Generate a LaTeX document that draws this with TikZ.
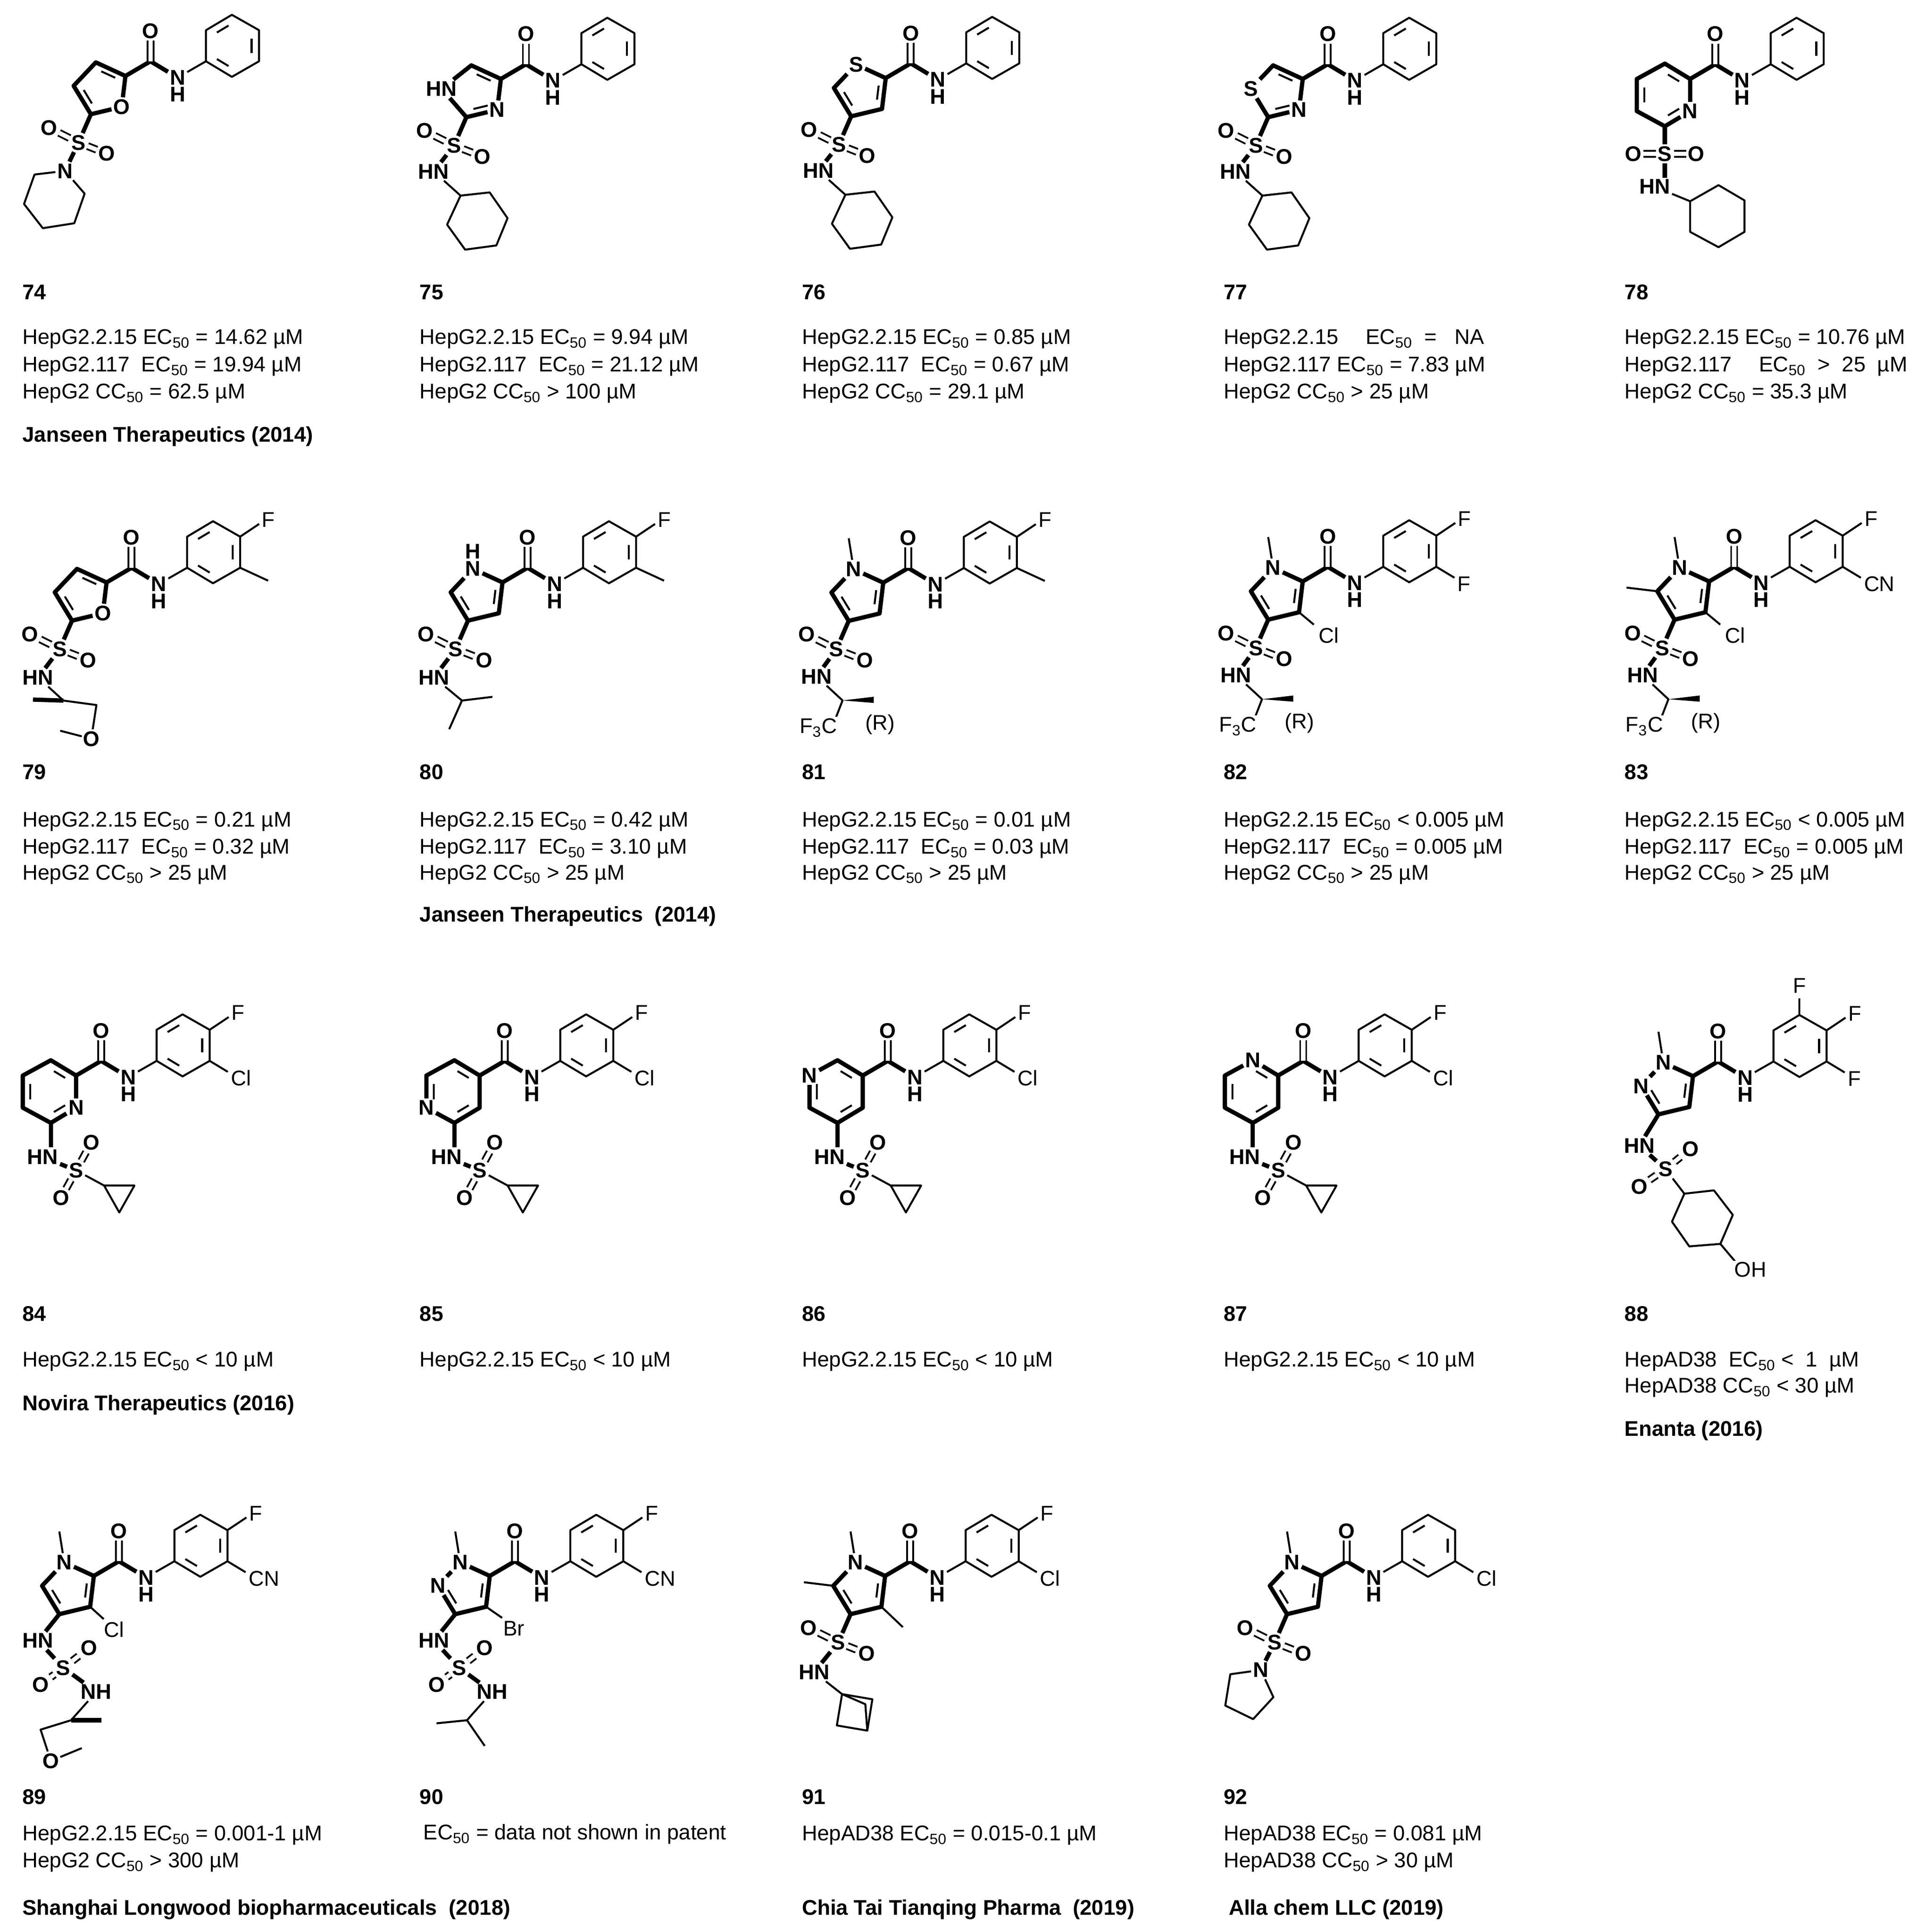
\documentclass[tikz,border=0pt]{standalone}
\usepackage{fontspec}
\setmainfont{Liberation Sans}
\usetikzlibrary{calc}
\tikzset{
 bb/.style={line width=2.6pt,line join=round},
 tb/.style={line width=1.2pt,line join=round},
 dbl/.style={double,double distance=2.6pt,line width=1.1pt},
 atom/.style={font=\fontsize{13}{13}\selectfont\bfseries,inner sep=1pt,fill=white},
 lab/.style={font=\fontsize{13}{13}\selectfont,inner sep=1pt,fill=white},
 txt/.style={font=\fontsize{13}{13}\selectfont,anchor=west,inner sep=0pt},
 btxt/.style={font=\fontsize{13}{13}\selectfont\bfseries,anchor=west,inner sep=0pt},
}
\newcommand\ib[3]{\draw[tb,shorten <=2.5pt,shorten >=2.5pt] ($(#1)!.28!(#3)$)--($(#2)!.28!(#3)$);}
\newcommand\amph[1]{%
 \coordinate (#1c2) at (0,0);
 \coordinate (#1cc) at (20.3,-11.9);
 \node[atom] (#1o) at (20.3,-36.4) {O};
 \node[atom] (#1n) at (42.3,1.3) {N};
 \node[atom] (#1h) at (42.3,15.1) {H};
 \coordinate (#1a1) at (65.3,-11.9);\coordinate (#1a2) at (65.3,-37.1);
 \coordinate (#1a3) at (86.3,-49.6);\coordinate (#1a4) at (108.3,-37.1);
 \coordinate (#1a5) at (108.3,-11.9);\coordinate (#1a6) at (86.3,0.7);
 \coordinate (#1ac) at (86.8,-24.4);
 \draw[bb] (#1c2)--(#1cc)--(#1n);
 \draw[dbl] (#1cc)--(#1o);
 \draw[tb] (#1n)--(#1a1);
 \draw[tb] (#1a1)--(#1a2)--(#1a3)--(#1a4)--(#1a5)--(#1a6)--cycle;
 \ib{#1a2}{#1a3}{#1ac}\ib{#1a4}{#1a5}{#1ac}\ib{#1a6}{#1a1}{#1ac}}
\newcommand\Fp[1]{\draw[tb] (#1a4)--(123.7,-47.4); \node[lab] (#1fp) at (131.3,-50.8) {F};}
\newcommand\mSub[2]{\draw[tb] (#1a5)--(123,-3); \node[lab,anchor=west] (#1ms) at (124,2) {#2};}
\newcommand\mMe[1]{\draw[tb] (#1a5)--(131,-1.4);}
\newcommand\fivec[1]{\coordinate (#1p1) at (-24,-11);\coordinate (#1p2) at (-42,8);
 \coordinate (#1p3) at (-28,31);\coordinate (#1p4) at (-3,25);\coordinate (#1rc) at (-19,10);}
\newcommand\hexc[1]{\coordinate (#1T) at (-20.5,-12.4);\coordinate (#1UL) at (-43.2,0);
 \coordinate (#1LL) at (-43.2,26.1);\coordinate (#1B) at (-20.5,38.4);\coordinate (#1LR) at (0,26.1);
 \coordinate (#1hc) at (-21.6,13);}
\newcommand\sulf[3]{\node[atom](#1s) at (-38,54){S};\node[atom](#1so1) at (-62,42){O};
 \node[atom](#1so2) at (-15,63){O};\node[atom](#1sn) at (#3){#2};
 \draw[bb] (#1p3)--(#1s);\draw[dbl] (#1s)--(#1so1);\draw[dbl] (#1s)--(#1so2);\draw[bb] (#1s)--(#1sn);}
\newcommand\cyhex[1]{\draw[tb] (#1sn)--(-32.7,94.6);
 \draw[tb] (-32.7,94.6)--(-9.1,92)--(5.4,112.9)--(-3.7,135)--(-29,138.4)--(-43.6,118.1)--cycle;}
\newcommand\hexsulf[1]{\node[atom](#1hn) at (-27,66){HN};\node[atom](#1s) at (0,76.9){S};
 \node[atom](#1so1) at (12.3,54.4){O};\node[atom](#1so2) at (-12.3,99.4){O};
 \draw[bb](#1B)--(-20.5,58);\draw[bb](#1hn)--(#1s);\draw[dbl](#1s)--(#1so1);\draw[dbl](#1s)--(#1so2);
 \draw[tb](#1s)--(22.7,89.2);\draw[tb](22.7,89.2)--(47.3,89.2)--(35,111)--cycle;}
\newcommand\chiral[1]{\draw[tb] (#1sn)--(-33,95.5)--(-39,111);
 \fill (-33,95.5)--(-7.7,92.5)--(-7.7,97.5)--cycle;
 \node[lab](#1cf) at (-52.6,117.6){F\textsubscript{3}C};\node[lab](#1R) at (-2.6,115){(R)};}
\newcommand\sulfam[1]{\node[atom](#1hn) at (-45.2,52.5){HN};\node[atom](#1s) at (-24.7,74.6){S};
 \node[atom](#1so1) at (-4.1,58.5){O};\node[atom](#1so2) at (-43.2,88.1){O};\node[atom](#1nh) at (2,94){NH};
 \draw[bb](#1p3)--(#1hn);\draw[bb](#1hn)--(#1s);\draw[dbl](#1s)--(#1so1);\draw[dbl](#1s)--(#1so2);\draw[bb](#1s)--(#1nh);}
\newcommand\pyrMe[1]{\node[atom](#1x1) at (#1p1){N};\draw[tb](#1x1)--(-28,-36);
 \draw[bb](#1c2)--(#1x1)--(#1p2)--(#1p3)--(#1p4)--(#1c2);\ib{#1p2}{#1p3}{#1rc}\ib{#1p4}{#1c2}{#1rc}}
\newcommand\pzMe[1]{\node[atom](#1x1) at (#1p1){N};\node[atom](#1x2) at (#1p2){N};\draw[tb](#1x1)--(-28,-36);
 \draw[bb](#1c2)--(#1x1)--(#1x2)--(#1p3)--(#1p4)--(#1c2);\ib{#1x2}{#1p3}{#1rc}\ib{#1p4}{#1c2}{#1rc}}
\begin{document}
\begin{tikzpicture}[x=0.0265cm,y=-0.0265cm]
\useasboundingbox[fill=white] (0,0) rectangle (1560.4,1566.4);
% ---- 74
\begin{scope}[shift={(101.7,61.6)}]
\fivec{a}\amph{a}
\node[atom](ax4) at (ap4){O};
\draw[bb](ac2)--(ap1)--(ap2)--(ap3)--(ax4)--(ac2);\ib{ac2}{ap1}{arc}\ib{ap2}{ap3}{arc}
\sulf{a}{N}{-49,77}
\draw[tb](asn)--(-73.7,79.9)--(-82.2,103.8)--(-67,123.4)--(-41.5,119.4)--(-33.1,95.4)--(asn);
\end{scope}
% ---- 75
\begin{scope}[shift={(406.1,64)}]
\fivec{b}\amph{b}
\node[atom](bx2) at (-48,8){HN};\node[atom](bx4) at (bp4){N};
\draw[bb](bc2)--(bp1)--(bx2)--(bp3)--(bx4)--(bc2);\ib{bc2}{bp1}{brc}\ib{bp3}{bx4}{brc}
\sulf{b}{HN}{-54.5,75}\cyhex{b}
\end{scope}
% ---- 76
\begin{scope}[shift={(718.1,63.3)}]
\fivec{c}\amph{c}
\node[atom](cx1) at (cp1){S};
\draw[bb](cc2)--(cx1)--(cp2)--(cp3)--(cp4)--(cc2);\ib{cp2}{cp3}{crc}\ib{cp4}{cc2}{crc}
\sulf{c}{HN}{-54.5,75}\cyhex{c}
\end{scope}
% ---- 77
\begin{scope}[shift={(1056.2,64)}]
\fivec{d}\amph{d}
\node[atom](dx2) at (dp2){S};\node[atom](dx4) at (dp4){N};
\draw[bb](dc2)--(dp1)--(dx2)--(dp3)--(dx4)--(dc2);\ib{dc2}{dp1}{drc}\ib{dp3}{dx4}{drc}
\sulf{d}{HN}{-54.5,75}\cyhex{d}
\end{scope}
% ---- 78
\begin{scope}[shift={(1370.3,64)}]
\hexc{e}\amph{e}
\node[atom](ex) at (eLR){N};
\draw[bb](ec2)--(eT)--(eUL)--(eLL)--(eB)--(ex)--(ec2);
\ib{ec2}{eT}{ehc}\ib{eUL}{eLL}{ehc}\ib{eB}{ex}{ehc}
\node[atom](es) at (-20.5,60.7){S};\node[atom](eso1) at (-46,60.7){O};\node[atom](eso2) at (5,60.7){O};
\node[atom](ehn) at (-28.7,87.4){HN};
\draw[bb](eB)--(es);\draw[dbl](es)--(eso1);\draw[dbl](es)--(eso2);\draw[bb](es)--(-20.5,80);
\draw[tb](ehn)--(0,99.2);\draw[tb](0,99.2)--(23,86.1)--(44.1,98.5)--(44.1,124)--(23,136.4)--(0,124)--cycle;
\end{scope}
% ---- 79
\begin{scope}[shift={(86.4,472.2)}]
\fivec{f}\amph{f}\Fp{f}\mMe{f}
\node[atom](fx4) at (fp4){O};
\draw[bb](fc2)--(fp1)--(fp2)--(fp3)--(fx4)--(fc2);\ib{fc2}{fp1}{frc}\ib{fp2}{fp3}{frc}
\sulf{f}{HN}{-55.5,77}
\draw[tb](fsn)--(-35,95.8);\draw[bb](-35,95.8)--(-59.7,95);
\node[atom](fo2) at (-12.4,126.8){O};
\draw[tb](-35,95.8)--(-8.2,99.4)--(fo2)--(-37,120.4)--cycle;
\end{scope}
% ---- 80
\begin{scope}[shift={(407.4,472.2)}]
\fivec{g}\amph{g}\Fp{g}\mMe{g}
\node[atom](gx1) at (gp1){N};\node[atom](gxh) at (-24,-25){H};
\draw[bb](gc2)--(gx1)--(gp2)--(gp3)--(gp4)--(gc2);\ib{gp2}{gp3}{grc}\ib{gp4}{gc2}{grc}
\sulf{g}{HN}{-55.5,77}
\draw[tb](gsn)--(-32.9,95.8)--(-8.2,92.8);\draw[tb](-32.9,95.8)--(-43.2,119);
\end{scope}
% ---- 81
\begin{scope}[shift={(716.1,472.4)}]
\fivec{h}\amph{h}\Fp{h}\mMe{h}\pyrMe{h}
\sulf{h}{HN}{-54,76}\chiral{h}
\end{scope}
% ---- 82
\begin{scope}[shift={(1056.2,471.4)}]
\fivec{i}\amph{i}\Fp{i}\mSub{i}{F}\pyrMe{i}
\draw[tb](ip4)--(9,35);\node[lab](icl) at (21,43.6){Cl};
\sulf{i}{HN}{-54,76}\chiral{i}
\end{scope}
% ---- 83
\begin{scope}[shift={(1385.7,471.4)}]
\fivec{j}\amph{j}\Fp{j}\mSub{j}{CN}\pyrMe{j}
\draw[tb](jp4)--(9,35);\node[lab](jcl) at (21,43.6){Cl};
\draw[tb](jp2)--(-67,5);
\sulf{j}{HN}{-54,76}\chiral{j}
\end{scope}
% ---- 84
\begin{scope}[shift={(61.7,872)}]
\hexc{k}\amph{k}\Fp{k}\mSub{k}{Cl}
\node[atom](kx) at (kLR){N};
\draw[bb](kc2)--(kT)--(kUL)--(kLL)--(kB)--(kx)--(kc2);
\ib{kc2}{kT}{khc}\ib{kUL}{kLL}{khc}\ib{kB}{kx}{khc}
\hexsulf{k}
\end{scope}
% ---- 85
\begin{scope}[shift={(388.9,872)}]
\hexc{l}\amph{l}\Fp{l}\mSub{l}{Cl}
\node[atom](lx) at (lLL){N};
\draw[bb](lc2)--(lT)--(lUL)--(lx)--(lB)--(lLR)--(lc2);
\ib{lc2}{lT}{lhc}\ib{lUL}{lx}{lhc}\ib{lB}{lLR}{lhc}
\hexsulf{l}
\end{scope}
% ---- 86
\begin{scope}[shift={(699.5,872)}]
\hexc{m}\amph{m}\Fp{m}\mSub{m}{Cl}
\node[atom](mx) at (mUL){N};
\draw[bb](mc2)--(mT)--(mx)--(mLL)--(mB)--(mLR)--(mc2);
\ib{mc2}{mT}{mhc}\ib{mx}{mLL}{mhc}\ib{mB}{mLR}{mhc}
\hexsulf{m}
\end{scope}
% ---- 87
\begin{scope}[shift={(1036.3,872)}]
\hexc{n}\amph{n}\Fp{n}\mSub{n}{Cl}
\node[atom](nx) at (nT){N};
\draw[bb](nc2)--(nx)--(nUL)--(nLL)--(nB)--(nLR)--(nc2);
\ib{nc2}{nx}{nhc}\ib{nUL}{nLL}{nhc}\ib{nB}{nLR}{nhc}
\hexsulf{n}
\end{scope}
% ---- 88
\begin{scope}[shift={(1372.6,872.5)}]
\fivec{o}\amph{o}\Fp{o}\mSub{o}{F}\pzMe{o}
\draw[tb](oa3)--(86.3,-63);\node[lab](oft) at (86.3,-73.5){F};
\node[atom](ohn) at (-43.5,56.3){HN};\node[atom](os) at (-22.3,75.3){S};
\node[atom](oso1) at (-2,59){O};\node[atom](oso2) at (-43.5,89.8){O};
\draw[bb](op3)--(ohn);\draw[bb](ohn)--(os);\draw[dbl](os)--(oso1);\draw[dbl](os)--(oso2);
\draw[tb](os)--(-7,95.3);
\draw[tb](-7,95.3)--(17,92.6)--(32.3,112.5)--(22.2,136)--(-3,138)--(-17,118)--cycle;
\draw[tb](22.2,136)--(34,150);\node[lab](ooh) at (46.6,157){OH};
\end{scope}
% ---- 89
\begin{scope}[shift={(76.1,1277.7)}]
\fivec{p}\amph{p}\Fp{p}\mSub{p}{CN}\pyrMe{p}
\draw[tb](pp4)--(8,35);\node[lab](pcl) at (16.5,43.3){Cl};
\sulfam{p}
\draw[tb](pnh)--(-18.5,117);\draw[bb](-18.5,117)--(6.2,117);
\node[atom](pox) at (-34.9,150){O};
\draw[tb](-18.5,117)--(-43.2,124.6)--(pox)--(-10.3,139.8)--cycle;
\end{scope}
% ---- 90
\begin{scope}[shift={(397.1,1277.7)}]
\fivec{q}\amph{q}\Fp{q}\mSub{q}{CN}\pzMe{q}
\draw[tb](qp4)--(10,34);\node[lab](qbr) at (19.5,42.4){Br};
\sulfam{q}
\draw[tb](qnh)--(-18.5,117)--(-43.2,119.5);\draw[tb](-18.5,117)--(-4.1,137.8);
\end{scope}
% ---- 91
\begin{scope}[shift={(717.6,1277.7)}]
\fivec{r}\amph{r}\Fp{r}\mSub{r}{Cl}\pyrMe{r}
\draw[tb](rp2)--(-65.8,5.1);\draw[tb](rp4)--(14.4,41.5);
\sulf{r}{HN}{-57.6,78}
\draw[tb](rsn)--(-34.9,95.8);
\draw[tb](-34.9,95.8)--(-10.3,100)--(-14.4,125.4)--(-39.1,121.2)--cycle;
\draw[tb](-34.9,95.8)--(-16,104)--(-14.4,125.4);
\end{scope}
% ---- 92
\begin{scope}[shift={(1071.5,1277.7)}]
\fivec{s}\amph{s}\mSub{s}{Cl}\pyrMe{s}
\sulf{s}{N}{-49.3,76.3}
\draw[tb](ssn)--(-74,79.7)--(-78.1,105.1)--(-55.5,116.1)--(-39.1,98.3)--(ssn);
\end{scope}
% ---------- texts
\def\E{EC\textsubscript{50}}\def\C{CC\textsubscript{50}}
\foreach \nm/\xx in {74/18,75/340,76/650,77/992,78/1317}{\node[btxt] (n\nm) at (\xx,237){\nm};}
\foreach \nm/\xx in {79/18,80/340,81/650,82/992,83/1317}{\node[btxt] (n\nm) at (\xx,626){\nm};}
\foreach \nm/\xx in {84/18,85/340,86/650,87/992,88/1317}{\node[btxt] (n\nm) at (\xx,1065){\nm};}
\foreach \nm/\xx in {89/18,90/340,91/650,92/992}{\node[btxt] (n\nm) at (\xx,1457){\nm};}
\node[txt](t1a) at (18,275){HepG2.2.15 \E{} = 14.62 µM};
\node[txt](t1b) at (18,297){HepG2.117 \ \E{} = 19.94 µM};
\node[txt](t1c) at (18,319){HepG2 \C{} = 62.5 µM};
\node[btxt](c1) at (18,354){Janseen Therapeutics (2014)};
\node[txt](t2a) at (340,275){HepG2.2.15 \E{} = 9.94 µM};
\node[txt](t2b) at (340,297){HepG2.117 \ \E{} = 21.12 µM};
\node[txt](t2c) at (340,319){HepG2 \C{} {>} 100 µM};
\node[txt](t3a) at (650,275){HepG2.2.15 \E{} = 0.85 µM};
\node[txt](t3b) at (650,297){HepG2.117 \ \E{} = 0.67 µM};
\node[txt](t3c) at (650,319){HepG2 \C{} = 29.1 µM};
\node[txt](t4a) at (992,275){HepG2.2.15 \quad\E{} \ = \ \ NA};
\node[txt](t4b) at (992,297){HepG2.117 \E{} = 7.83 µM};
\node[txt](t4c) at (992,319){HepG2 \C{} {>} 25 µM};
\node[txt](t5a) at (1317,275){HepG2.2.15 \E{} = 10.76 µM};
\node[txt](t5b) at (1317,297){HepG2.117 \quad\E{} \ {>} \ 25 \ µM};
\node[txt](t5c) at (1317,319){HepG2 \C{} = 35.3 µM};
\node[txt](t6a) at (18,666){HepG2.2.15 \E{} = 0.21 µM};
\node[txt](t6b) at (18,688){HepG2.117 \ \E{} = 0.32 µM};
\node[txt](t6c) at (18,709){HepG2 \C{} {>} 25 µM};
\node[txt](t7a) at (340,666){HepG2.2.15 \E{} = 0.42 µM};
\node[txt](t7b) at (340,688){HepG2.117 \ \E{} = 3.10 µM};
\node[txt](t7c) at (340,709){HepG2 \C{} {>} 25 µM};
\node[btxt](c2) at (340,743){Janseen Therapeutics \ (2014)};
\node[txt](t8a) at (650,666){HepG2.2.15 \E{} = 0.01 µM};
\node[txt](t8b) at (650,688){HepG2.117 \ \E{} = 0.03 µM};
\node[txt](t8c) at (650,709){HepG2 \C{} {>} 25 µM};
\node[txt](t9a) at (992,666){HepG2.2.15 \E{} {<} 0.005 µM};
\node[txt](t9b) at (992,688){HepG2.117 \ \E{} = 0.005 µM};
\node[txt](t9c) at (992,709){HepG2 \C{} {>} 25 µM};
\node[txt](t10a) at (1317,666){HepG2.2.15 \E{} {<} 0.005 µM};
\node[txt](t10b) at (1317,688){HepG2.117 \ \E{} = 0.005 µM};
\node[txt](t10c) at (1317,709){HepG2 \C{} {>} 25 µM};
\node[txt](t11) at (18,1104){HepG2.2.15 \E{} {<} 10 µM};
\node[btxt](c3) at (18,1139){Novira Therapeutics (2016)};
\node[txt](t12) at (340,1104){HepG2.2.15 \E{} {<} 10 µM};
\node[txt](t13) at (650,1104){HepG2.2.15 \E{} {<} 10 µM};
\node[txt](t14) at (992,1104){HepG2.2.15 \E{} {<} 10 µM};
\node[txt](t15a) at (1317,1104){HepAD38 \ \E{} {<} \ 1 \ µM};
\node[txt](t15b) at (1317,1125){HepAD38 \C{} {<} 30 µM};
\node[btxt](c4) at (1317,1160){Enanta (2016)};
\node[txt](t16a) at (18,1488){HepG2.2.15 \E{} = 0.001-1 µM};
\node[txt](t16b) at (18,1510){HepG2 \C{} {>} 300 µM};
\node[btxt](c5) at (18,1548){Shanghai Longwood biopharmaceuticals \ (2018)};
\node[txt](t17) at (343,1487){\E{} = data not shown in patent};
\node[txt](t18) at (650,1488){HepAD38 \E{} = 0.015-0.1 µM};
\node[btxt](c6) at (650,1548){Chia Tai Tianqing Pharma \ (2019)};
\node[txt](t19a) at (992,1488){HepAD38 \E{} = 0.081 µM};
\node[txt](t19b) at (992,1510){HepAD38 \C{} {>} 30 µM};
\node[btxt](c7) at (996,1548){Alla chem LLC (2019)};
\end{tikzpicture}
\end{document}
